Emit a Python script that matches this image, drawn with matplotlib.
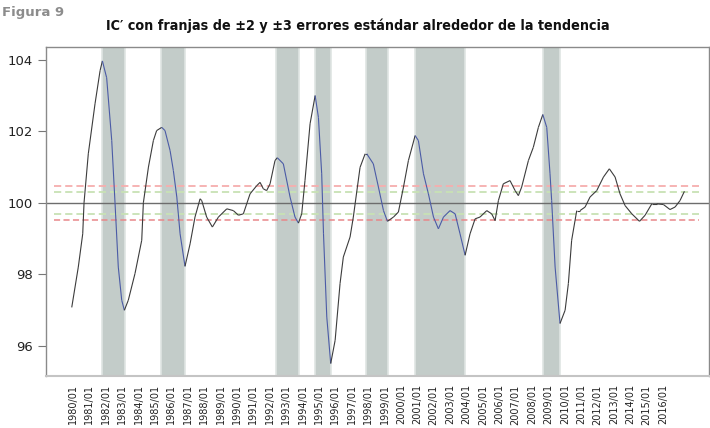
import numpy as np
import matplotlib.pyplot as plt
from matplotlib.collections import LineCollection

# series (decimal year, index)
fechas = [1979.92, 1980.32, 1980.59, 1980.67, 1980.93, 1981.34, 1981.65, 1981.79,
          1982.05, 1982.36, 1982.56, 1982.76, 1982.97, 1983.13, 1983.37, 1983.78,
          1984.19, 1984.29, 1984.60, 1984.90, 1985.10, 1985.41, 1985.61, 1985.92,
          1986.12, 1986.33, 1986.53, 1986.83, 1987.14, 1987.44, 1987.75, 1987.85,
          1988.15, 1988.50, 1988.87, 1989.38, 1989.78, 1990.09, 1990.39, 1990.80,
          1991.21, 1991.41, 1991.61, 1991.81, 1992.02, 1992.32, 1992.46, 1992.83,
          1993.24, 1993.54, 1993.75, 1993.95, 1994.15, 1994.46, 1994.77, 1994.97,
          1995.17, 1995.28, 1995.48, 1995.72, 1995.99, 1996.29, 1996.49, 1996.90,
          1997.10, 1997.51, 1997.82, 1997.92, 1998.32, 1998.63, 1998.94, 1999.18,
          1999.55, 1999.85, 2000.16, 2000.46, 2000.87, 2001.07, 2001.38, 2001.68,
          2001.99, 2002.29, 2002.60, 2003.00, 2003.31, 2003.61, 2003.92, 2004.22,
          2004.53, 2004.83, 2005.24, 2005.54, 2005.75, 2005.95, 2006.25, 2006.66,
          2006.97, 2007.17, 2007.37, 2007.78, 2008.08, 2008.39, 2008.66, 2008.90,
          2009.10, 2009.20, 2009.41, 2009.71, 2010.02, 2010.22, 2010.42, 2010.73,
          2010.93, 2011.24, 2011.54, 2011.95, 2012.36, 2012.72, 2013.07, 2013.37,
          2013.68, 2014.09, 2014.56, 2014.90, 2015.31, 2015.61, 2016.02, 2016.42,
          2016.73, 2017.03, 2017.30]
ic = [97.07, 98.20, 99.13, 100.00, 101.37, 102.77, 103.70, 103.97,
      103.50, 101.74, 100.00, 98.20, 97.27, 96.99, 97.27, 98.02,
      98.95, 100.00, 101.00, 101.74, 102.02, 102.11, 102.02, 101.46,
      100.90, 100.16, 99.13, 98.22, 98.85, 99.60, 100.11, 100.06,
      99.60, 99.32, 99.60, 99.83, 99.78, 99.65, 99.69, 100.25,
      100.48, 100.57, 100.39, 100.34, 100.53, 101.18, 101.26, 101.09,
      100.16, 99.60, 99.43, 99.69, 100.62, 102.21, 103.00, 102.39,
      100.81, 99.13, 96.80, 95.50, 96.15, 97.74, 98.48, 99.04,
      99.60, 100.99, 101.37, 101.37, 101.09, 100.44, 99.78, 99.48,
      99.60, 99.74, 100.44, 101.18, 101.88, 101.74, 100.81, 100.25,
      99.60, 99.27, 99.60, 99.78, 99.69, 99.13, 98.53, 99.13,
      99.55, 99.60, 99.78, 99.69, 99.50, 100.06, 100.53, 100.62,
      100.34, 100.20, 100.44, 101.18, 101.55, 102.11, 102.47, 102.11,
      100.81, 100.06, 98.20, 96.62, 96.99, 97.74, 98.95, 99.78,
      99.78, 99.88, 100.16, 100.34, 100.72, 100.95, 100.72, 100.25,
      99.92, 99.69, 99.48, 99.65, 99.97, 99.97, 99.95, 99.81,
      99.88, 100.06, 100.32]

# recession bands (start, end)
franjas = [(1981.77, 1983.17), (1985.37, 1986.83), (1992.39, 1993.79),
           (1994.77, 1995.74), (1997.90, 1999.20), (2000.87, 2003.92),
           (2008.70, 2009.70)]

tendencia = 100.0
banda_2 = [99.68, 100.30]
banda_3 = [99.53, 100.46]

anios = list(range(1980, 2017))
etiquetas = [f"{a}/01" for a in anios]

fig = plt.figure(figsize=(7.10, 4.28), dpi=100)
ax = fig.add_axes([0.0648, 0.1215, 0.9338, 0.7687])

for a, b in franjas:
    ax.axvspan(a, b, facecolor='#c3ccc9', edgecolor='#dfe5e3', linewidth=1.2, zorder=1)

ax.axhline(tendencia, color='#6d6d6d', linewidth=1.0, zorder=2)

x0, x1 = 1978.84, 2018.19
ax.plot([x0, x1], [banda_3[1]] * 2, color='#f6aeae', lw=1.3, dashes=(4, 2.2), zorder=2)
ax.plot([x0, x1], [banda_2[1]] * 2, color='#c8e2b4', lw=1.3, dashes=(4, 2.2), zorder=2)
ax.plot([x0, x1], [banda_2[0]] * 2, color='#c8e2b4', lw=1.3, dashes=(4, 2.2), zorder=2)
ax.plot([x0, x1], [banda_3[0]] * 2, color='#e8878a', lw=1.1, dashes=(4, 2.2), zorder=2)

# line: black outside recessions, blue inside
pts = np.column_stack([fechas, ic])
segs = np.stack([pts[:-1], pts[1:]], axis=1)
mid = (pts[:-1, 0] + pts[1:, 0]) / 2
colores = ['#4b5ba6' if any(a <= m <= b for a, b in franjas) else '#3c3c3c' for m in mid]
ax.add_collection(LineCollection(segs, colors=colores, linewidths=0.8, zorder=3))

ax.set_xlim(1978.35, 2018.8)
ax.set_ylim(95.15, 104.36)
ax.set_yticks([96, 98, 100, 102, 104])
ax.set_xticks(anios)
ax.set_xticklabels(etiquetas, rotation=90, fontsize=7, color='#222')
ax.tick_params(axis='x', length=0, pad=6)
ax.tick_params(axis='y', length=6, width=0.8, color='#777', labelsize=9.5, labelcolor='#222')

for s in ['left', 'top', 'right']:
    ax.spines[s].set_color('#8a8a8a')
    ax.spines[s].set_linewidth(1.0)
ax.spines['bottom'].set_color('#c4c4c4')
ax.spines['bottom'].set_linewidth(1.5)

fig.text(0.003, 0.985, 'Figura 9', fontsize=9.5, fontweight='bold', color='#8c8c8c',
         ha='left', va='top')
fig.text(0.504, 0.94, 'IC\u2032 con franjas de \u00b12 y \u00b13 errores est\u00e1ndar alrededor de la tendencia',
         fontsize=10.3, fontweight='bold', fontstretch='condensed', family='DejaVu Sans',
         ha='center', va='center', color='#111')

fig.savefig('out.png', dpi=100)
